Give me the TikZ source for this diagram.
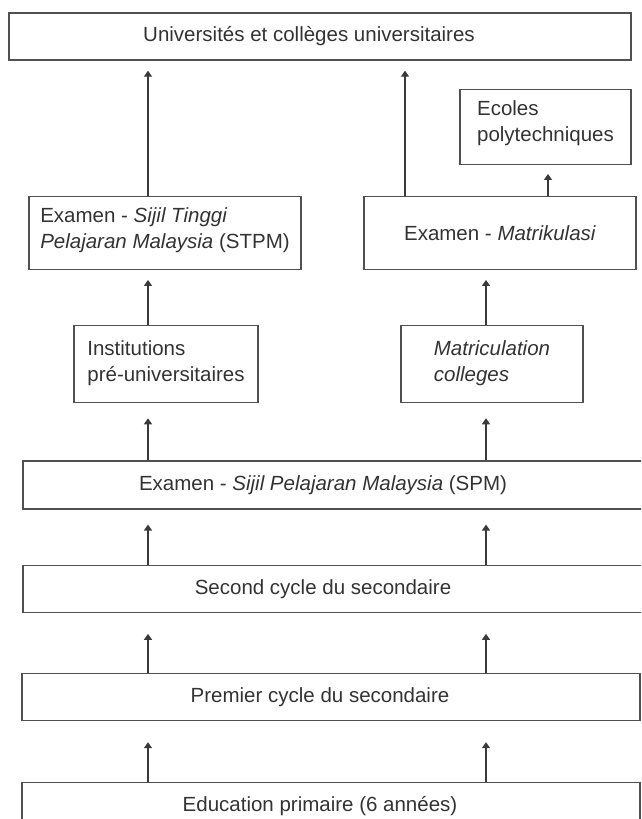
\documentclass[tikz,border=0pt]{standalone}
\usepackage{fontspec}
\setmainfont{Liberation Sans}
\usetikzlibrary{arrows.meta,positioning}

\definecolor{boxgray}{HTML}{505050}
\definecolor{linegray}{HTML}{3A3A3A}
\definecolor{textgray}{HTML}{333333}

\begin{document}
\begin{tikzpicture}[
  x=1pt, y=-1pt,
  font=\fontsize{20.5}{26}\selectfont,
  line/.style={draw=linegray, line width=1.3pt, -{Triangle[length=6pt,width=8pt]}},
  box/.style={draw=boxgray, line width=1.3pt, text=textgray, inner sep=0pt, align=left},
  wide/.style={box, minimum height=47pt, execute at end node={\hspace*{22pt}}}
]
\useasboundingbox (0,0) rectangle (641,819);
\clip (0,0) rectangle (641,819);

\node[wide, minimum width=622pt] (univ) at (320,36.5) {Universités et collèges universitaires};

\node[box, minimum width=171pt, minimum height=75pt, text depth=11pt, below=28pt of univ.south, xshift=225.5pt] (ecoles) {Ecoles\\polytechniques};

\node[box, minimum width=272pt, minimum height=73pt, text depth=9pt, below=135pt of univ.south, xshift=-155pt] (stpm) {Examen - \textit{Sijil Tinggi}\\\textit{Pelajaran Malaysia} (STPM)};
\node[box, minimum width=272pt, minimum height=73pt, below=135pt of univ.south, xshift=180pt] (matrik) {Examen - \textit{Matrikulasi}};

\node[box, minimum width=184pt, minimum height=77pt, text depth=7pt, below=55pt of stpm.south, xshift=1pt] (inst) {Institutions\\pré-universitaires};
\node[box, minimum width=182pt, minimum height=77pt, text depth=7pt, below=55pt of matrik.south, xshift=-8pt] (matcol) {\textit{Matriculation}\\\textit{colleges}};

\node[wide, minimum width=622pt, minimum height=48pt, below=57pt of inst.south, xshift=168pt] (spm) {Examen - \textit{Sijil Pelajaran Malaysia} (SPM)};
\node[wide, minimum width=622pt, below=55pt of spm.south] (second) {Second cycle du secondaire};
\node[wide, minimum width=618pt, below=60pt of second.south, xshift=-3pt] (premier) {Premier cycle du secondaire};
\node[wide, minimum width=618pt, below=61pt of premier.south] (educ) {Education primaire (6 années)};

% columns of the arrows
\coordinate (lcol) at (148,0);
\coordinate (rcol) at (486,0);
\coordinate (mcol) at (405,0);
\coordinate (pcol) at (548,0);

\draw[line, shorten >=10pt] (stpm.north -| lcol) -- (univ.south -| lcol);
\draw[line, shorten >=10pt] (matrik.north -| mcol) -- (univ.south -| mcol);
\draw[line, shorten >=9pt] (matrik.north -| pcol) -- (ecoles.south -| pcol);
\draw[line, shorten >=10pt] (inst.north -| lcol) -- (stpm.south -| lcol);
\draw[line, shorten >=10pt] (matcol.north -| rcol) -- (matrik.south -| rcol);
\draw[line, shorten >=15pt] (spm.north -| lcol) -- (inst.south -| lcol);
\draw[line, shorten >=15pt] (spm.north -| rcol) -- (matcol.south -| rcol);
\draw[line, shorten >=15pt] (second.north -| lcol) -- (spm.south -| lcol);
\draw[line, shorten >=15pt] (second.north -| rcol) -- (spm.south -| rcol);
\draw[line, shorten >=21pt] (premier.north -| lcol) -- (second.south -| lcol);
\draw[line, shorten >=21pt] (premier.north -| rcol) -- (second.south -| rcol);
\draw[line, shorten >=21pt] (educ.north -| lcol) -- (premier.south -| lcol);
\draw[line, shorten >=21pt] (educ.north -| rcol) -- (premier.south -| rcol);
\end{tikzpicture}
\end{document}
